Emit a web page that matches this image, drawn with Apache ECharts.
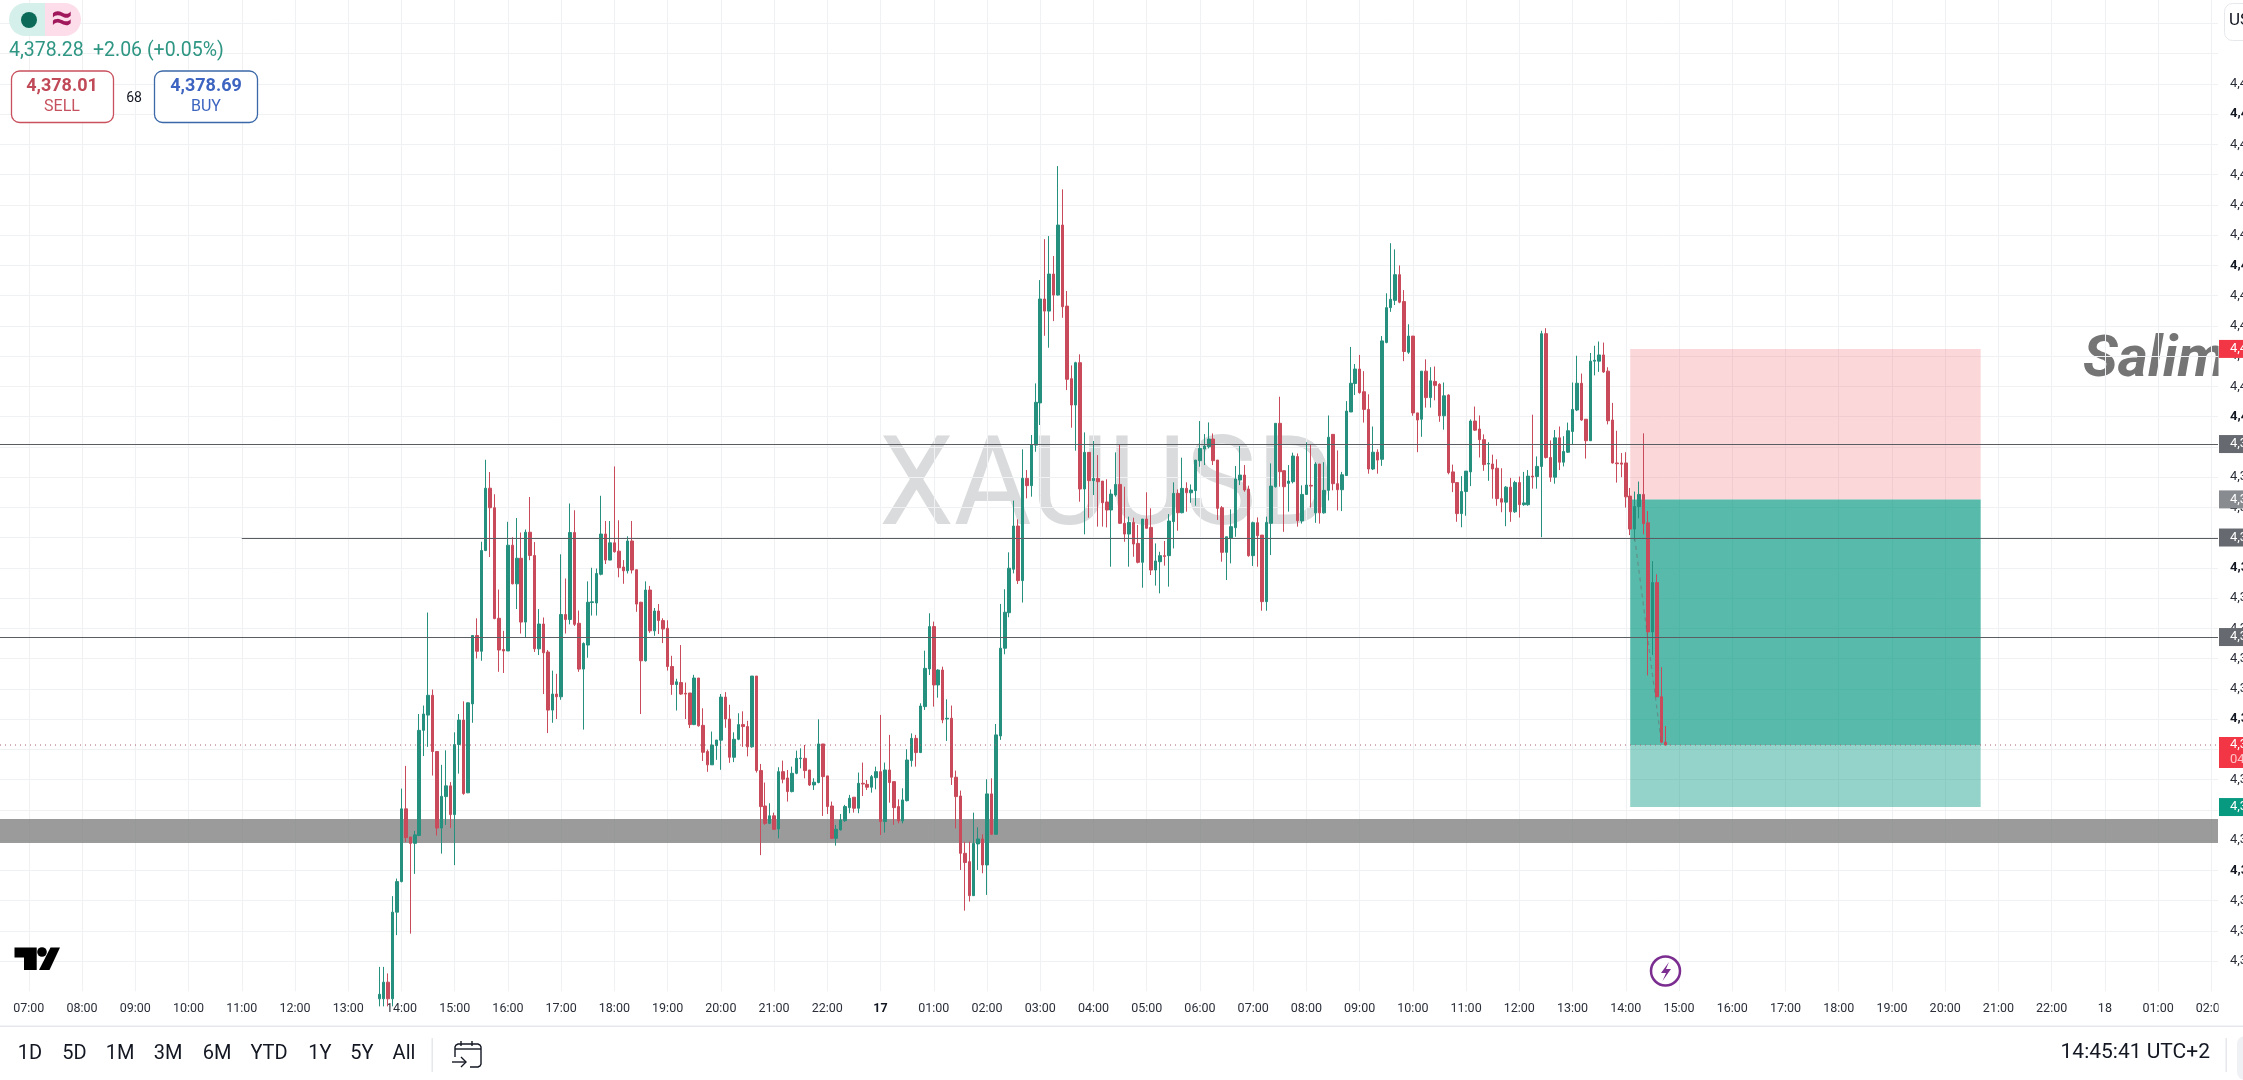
<!DOCTYPE html>
<html><head><meta charset="utf-8">
<style>html,body{margin:0;padding:0;background:#fff;overflow:hidden}#c{width:2243px;height:1080px}</style>
<script src="https://cdn.jsdelivr.net/npm/echarts@6/dist/echarts.min.js"></script>
</head><body><div id="c"></div>
<script>
// hour labels every 12 five-minute slots, first one at slot 6
const hourLabels=['07:00','08:00','09:00','10:00','11:00','12:00','13:00','14:00','15:00','16:00','17:00','18:00','19:00','20:00','21:00','22:00','17','01:00','02:00','03:00','04:00','05:00','06:00','07:00','08:00','09:00','10:00','11:00','12:00','13:00','14:00','15:00','16:00','17:00','18:00','19:00','20:00','21:00','22:00','18','01:00','02:00'];
const slotCount=500, firstHourSlot=6, firstCandleSlot=85;
const priceTicksTop=4422;
// [open, close, low, high]
const candles=[
[4361.5,4361.8,4361,4363.61],[4361.5,4362.6,4361,4363.61],[4362.6,4361.5,4361,4363.18],[4361.5,4367.23,4361,4368.29],[4367.23,4369.25,4365.71,4369.45],
[4369.25,4374.06,4369.2,4375.4],[4374.06,4372.16,4371.86,4376.9],[4372.2,4371.78,4365.81,4372.2],[4371.78,4372.34,4369.76,4372.6],[4372.3,4379.25,4372.25,4380.33],
[4379.25,4380.33,4377.55,4380.89],[4380.26,4381.57,4378.16,4387.04],[4381.57,4377.85,4376.26,4381.95],[4377.85,4372.79,4372.29,4377.85],[4372.79,4374.89,4371.1,4376.97],
[4374.87,4375.58,4373,4377.93],[4375.58,4373.68,4372.79,4375.83],[4373.68,4378.31,4370.34,4379.12],[4378.31,4379.93,4376.39,4380.33],[4379.93,4375.07,4374.99,4381.17],
[4375.12,4381.07,4375.1,4381.1],[4381,4385.52,4379.75,4385.55],[4385.52,4384.48,4384,4386.66],[4384.48,4391.14,4383.85,4391.72],[4391.14,4395.26,4391.1,4397.14],
[4395.26,4393.97,4390.71,4396.33],[4393.97,4386.64,4386.6,4394.86],[4386.66,4384.56,4383.12,4388.56],[4384.6,4384.5,4383.04,4385.83],[4384.5,4391.49,4384.5,4393.04],
[4391.49,4388.94,4388.9,4392.02],[4388.94,4390.63,4387.27,4393.29],[4390.63,4386.41,4385.65,4392.33],[4386.41,4392.35,4385.4,4392.53],[4392.35,4390.81,4390.5,4394.68],
[4390.81,4384.64,4384.43,4391.7],[4384.64,4386.28,4384.23,4387.27],[4386.28,4384.38,4381.65,4386.71],[4384.43,4380.59,4379.07,4384.56],[4380.59,4381.65,4379.75,4383.2],
[4381.65,4381.47,4380,4382.99],[4381.47,4386.91,4381.27,4390.89],[4386.91,4386.58,4385.65,4389.29],[4386.58,4392.33,4386.26,4394.25],[4392.33,4386.26,4386.15,4393.8],
[4386.33,4383.3,4383.12,4387.17],[4383.3,4384.99,4379.3,4385.07],[4384.89,4387.72,4384.05,4389.1],[4387.7,4387.75,4386.84,4390],[4387.67,4389.62,4386.84,4389.95],
[4389.57,4392.23,4389.5,4394.76],[4392.23,4390.51,4390.25,4393.09],[4390.51,4391.65,4390.5,4393.09],[4391.65,4391.06,4391,4396.7],[4391.1,4390,4389.37,4393.14],
[4390.05,4389.8,4388.94,4390.51],[4389.8,4391.77,4389.62,4392.08],[4391.77,4389.85,4389.62,4393.09],[4389.87,4387.6,4387.09,4389.87],[4387.72,4383.85,4380.33,4387.75],
[4383.85,4388.53,4383.8,4389.1],[4388.53,4385.83,4385.7,4388.8],[4385.83,4387.14,4385.5,4387.34],[4387.14,4386.51,4385.62,4387.6],[4386.51,4385.95,4385.02,4386.66],
[4386,4383.47,4383.2,4386.53],[4383.47,4382.28,4381.6,4384.18],[4382.28,4382.46,4380.56,4382.66],[4382.41,4381.65,4381.6,4384.89],[4381.7,4381.65,4380,4382.41],
[4381.72,4379.63,4379.4,4381.72],[4379.63,4382.71,4379.6,4382.92],[4382.71,4379.55,4379.5,4382.71],[4379.58,4377.8,4377.22,4380.71],[4377.85,4376.97,4376.51,4377.98],
[4376.97,4378.28,4377,4379.17],[4378.24,4378.61,4377.3,4378.61],[4378.6,4381.45,4376.64,4381.65],[4381.45,4380,4379.42,4381.78],[4380,4377.47,4377.1,4380.94],
[4377.47,4378.66,4377.15,4379.12],[4378.66,4379.63,4378.6,4380.38],[4379.63,4379.5,4378.16,4380.51],[4379.5,4378.16,4377.53,4379.88],[4378.16,4382.84,4378.1,4382.84],
[4382.84,4376.59,4376.46,4382.84],[4376.59,4374.21,4371,4377.03],[4374.25,4373.1,4373,4375.8],[4373.1,4373.6,4373.05,4374.43],[4373.6,4372.71,4372.67,4373.81],
[4372.73,4376.52,4372.11,4376.81],[4376.52,4376.02,4375.75,4377.25],[4376.1,4375.2,4374.54,4376.63],[4375.2,4376.41,4375.15,4376.85],[4376.41,4377.4,4376.35,4377.91],
[4377.38,4377.42,4376.74,4378.06],[4377.4,4376.59,4376.08,4378.28],[4376.63,4375.64,4375.57,4376.63],[4375.64,4375.82,4375.31,4376.08],[4375.8,4378.35,4375.75,4379.98],
[4378.35,4376.19,4373.59,4378.35],[4376.24,4374.21,4373.72,4376.24],[4374.25,4372.11,4372.07,4374.54],[4372.11,4372.71,4371.63,4373],[4372.67,4373.33,4372.62,4373.72],
[4373.28,4374.21,4373.2,4374.32],[4374.14,4374.76,4373.77,4374.98],[4374.83,4374.1,4373.81,4374.83],[4374.1,4375.75,4373.77,4376.46],[4375.75,4375.7,4374.91,4377.12],
[4375.68,4375.49,4375.31,4375.97],[4375.49,4376.19,4375.13,4376.3],[4376.12,4376.52,4375.35,4376.85],[4376.52,4373.22,4372.33,4380.27],[4373.22,4376.63,4372.49,4377.12],
[4376.63,4375.8,4374.47,4378.95],[4375.86,4374.14,4373,4375.86],[4374.21,4373.26,4373.1,4374.69],[4373.26,4374.65,4373.1,4375.42],[4374.6,4377.29,4374.55,4378],
[4377.25,4378.72,4376.85,4379.05],[4378.72,4377.78,4376.85,4378.95],[4377.78,4380.86,4377.75,4381.04],[4380.82,4383.35,4380.6,4384.52],[4383.31,4386.11,4382.91,4386.99],
[4386.11,4382.25,4380.82,4386.44],[4382.25,4383.24,4381.41,4383.29],[4383.24,4379.94,4379.72,4383.46],[4380,4380.05,4378.55,4381.3],[4380.05,4376.15,4375.64,4380.89],
[4376.15,4374.87,4372.77,4376.59],[4374.91,4371.12,4370.02,4375.27],[4371.12,4370.51,4367.33,4371.89],[4370.57,4368.32,4367.93,4371.89],[4368.32,4371.78,4368.3,4373.81],
[4371.74,4372.07,4370.02,4372.84],[4372.07,4370.35,4369.8,4372.38],[4370.35,4375.05,4368.37,4376.02],[4375.05,4372.38,4372.33,4376.08],[4372.38,4378.95,4372.35,4379.67],
[4378.88,4384.68,4378.62,4387.61],[4384.68,4387.06,4384.28,4388.58],[4387.03,4389.97,4386.73,4391.02],[4389.9,4392.76,4389.63,4394.44],[4392.76,4389.15,4388.93,4393.2],
[4389.15,4395.92,4387.7,4397.83],[4395.91,4395.43,4394.59,4396.46],[4395.43,4398.11,4394.7,4398.78],[4398.11,4400.94,4397.67,4402.19],[4400.9,4407.77,4399.44,4409.02],
[4407.77,4406.97,4405.34,4411.73],[4406.97,4409.42,4404.55,4411.93],[4409.42,4408.03,4406.31,4410.61],[4408.03,4412.66,4408,4416.56],[4412.66,4407.26,4406.53,4415.02],
[4407.3,4402.46,4401.75,4408.3],[4402.5,4400.76,4399.26,4403.38],[4400.76,4403.56,4397.74,4403.62],[4403.56,4395.21,4394.37,4404.11],[4395.21,4397.63,4392.21,4398.95],
[4397.63,4395.76,4393.31,4397.63],[4395.76,4395.91,4394.81,4398.38],[4395.91,4395.69,4392.72,4397.45],[4395.73,4394.3,4392.72,4395.73],[4394.35,4393.82,4392.67,4395.85],
[4393.82,4394.87,4390.07,4395.18],[4394.81,4395.51,4394.7,4397.63],[4395.51,4392.94,4392.9,4398.18],[4392.94,4392.23,4391.72,4395.36],[4392.23,4393,4390.07,4393.38],
[4393,4391.57,4390.73,4393.31],[4391.61,4390.36,4390.29,4392.83],[4390.36,4393.22,4388.68,4393.22],[4393.22,4392.61,4392.6,4394.99],[4392.67,4389.85,4389.52,4393.93],
[4389.85,4390.45,4388.82,4391.61],[4390.4,4390.8,4388.31,4391.06],[4390.8,4390.75,4390.14,4391.77],[4390.8,4393.09,4388.75,4393.55],[4393.05,4394.92,4391.28,4395.65],
[4394.92,4393.64,4392.45,4395.18],[4393.64,4395.25,4393.6,4397.28],[4395.25,4394.96,4393.71,4395.65],[4394.96,4395.14,4394.3,4395.51],[4395.1,4397.12,4394.1,4397.12],
[4397.08,4397.89,4396.68,4399.7],[4397.85,4398.05,4396.79,4398.84],[4398,4398.51,4397.89,4399.61],[4398.51,4397.08,4396.79,4398.88],[4397.12,4393.93,4393.16,4397.12],
[4393.97,4391.02,4390.4,4394.08],[4391.02,4392.05,4389.19,4392.05],[4391.94,4392.72,4390.29,4393.86],[4392.65,4395.87,4392.05,4396.73],[4395.8,4396.13,4395.47,4398.05],
[4396.13,4395.14,4395.03,4396.79],[4395.2,4390.8,4390.73,4395.43],[4390.8,4392.98,4390.12,4393.05],[4392.98,4392.12,4390.07,4393.33],[4392.16,4387.76,4387.16,4392.16],
[4387.76,4393,4387.16,4393.38],[4392.94,4395.4,4390.84,4396.9],[4395.36,4399.55,4395.3,4399.55],[4399.55,4396.35,4395.36,4401.31],[4396.42,4395.36,4392.38,4396.42],
[4395.58,4395.73,4393.71,4396.79],[4395.69,4397.39,4395.58,4397.61],[4397.35,4393.11,4392.72,4397.56],[4393.1,4394.85,4392.92,4395.45],[4394.85,4395.47,4394.81,4398.3],
[4395.45,4395.4,4393.98,4398.16],[4393.63,4396.86,4392.97,4396.98],[4396.86,4393.63,4392.92,4396.86],[4393.63,4395.12,4393.58,4396.98],[4395.12,4398.63,4394.45,4400.07],
[4398.82,4395.56,4395.12,4398.82],[4395.56,4395.16,4393.79,4397.76],[4395.16,4396.15,4393.75,4396.34],[4396.1,4400.36,4396.1,4401.02],[4400.3,4402.2,4400.3,4404.6],
[4402.18,4403.14,4401.42,4403.47],[4403.14,4401.58,4401.51,4404.07],[4401.64,4400.47,4399.6,4403],[4400.47,4396.53,4396.22,4401.47],[4396.53,4397.64,4396.46,4399.34],
[4397.64,4397.12,4396.22,4397.83],[4397.17,4405,4396.74,4405.32],[4404.9,4407.2,4404.84,4408.15],[4407.2,4407.75,4406.92,4411.46],[4407.68,4409.38,4407.37,4411.05],
[4409.38,4407.56,4407.49,4409.99],[4407.6,4404.3,4403.66,4408.36],[4404.25,4405.32,4404.14,4406.1],[4405.32,4400.24,4400.05,4405.32],[4400.24,4399.77,4397.64,4400.24],
[4399.82,4403,4398.66,4403],[4403,4401.25,4400.59,4403.78],[4401.25,4402.36,4400.59,4403.26],[4402.32,4402.06,4401.07,4403.31],[4402.13,4400.05,4399.65,4402.2],
[4400.05,4401.37,4399.13,4402.25],[4401.42,4396.29,4396.18,4401.47],[4396.34,4395.63,4395,4396.82],[4395.63,4393.58,4393.04,4395.63],[4393.58,4395.04,4392.68,4396.06],
[4395.04,4396.39,4393.44,4396.39],[4396.34,4399.7,4395.4,4399.81],[4399.7,4399.1,4399.06,4400.66],[4399.17,4398.47,4397.29,4400.07],[4398.47,4396.82,4396.41,4398.82],
[4396.86,4396.9,4395.75,4398.3],[4396.86,4396.53,4394.57,4397.48],[4396.58,4394.57,4394.1,4397.17],[4394.57,4394.34,4393.67,4396.58],[4394.34,4395.33,4392.75,4395.4],
[4395.33,4393.7,4393.04,4395.94],[4393.7,4395.63,4393.63,4395.75],[4395.63,4394.17,4393.32,4396.03],[4394.17,4394.29,4394.1,4396.34],[4394.17,4396.06,4394.1,4396.46],
[4396.06,4396,4395.23,4400.12],[4396.03,4396.7,4395.23,4397.36],[4396.7,4405.48,4392.02,4405.67],[4405.48,4397.29,4397.22,4405.84],[4397.29,4395.99,4395.68,4398.42],
[4395.99,4398.59,4395.56,4399.11],[4398.59,4396.98,4396.46,4399.34],[4396.98,4397.69,4396.7,4398.7],[4397.64,4399.06,4397.59,4399.6],[4399.01,4400.47,4398.16,4402.25],
[4400.43,4402.2,4400.36,4404.02],[4402.2,4399.77,4399.72,4402.84],[4399.82,4398.4,4397.22,4399.82],[4398.4,4403.66,4398.4,4404.2],[4403.66,4403.72,4402.72,4404.68],
[4403.66,4404.07,4402.95,4404.96],[4404.07,4402.95,4402.88,4404.89],[4403,4399.72,4399.48,4403.26],[4399.77,4396.93,4396.89,4400.9],[4396.93,4396.88,4395.63,4399.06],
[4396.93,4396.85,4395.99,4397.59],[4396.93,4394.69,4393.98,4397.64],[4394.74,4392.56,4392.16,4395.28],[4392.56,4394.05,4391.79,4395.04],[4394.05,4394.85,4393.27,4395.7],
[4394.85,4392.92,4392.21,4398.89],[4392.97,4385.76,4382.88,4393.75],[4385.76,4389.02,4384.23,4390.44],[4389.02,4381.47,4381.45,4389.57],[4381.47,4378.47,4378.4,4383.43],
[4378.47,4378.28,4378.24,4379.53]
];
const priceLevels=[{slot:0,price:4398.18},{slot:54,price:4392.0},{slot:0,price:4385.42}];
const lastPrice=4378.28;
const supportBand=[4373.39,4371.8];
const tradeBox={fromSlot:367,toSlot:446,stop:4404.47,entry:4394.52,last:4378.28,target:4374.18};
const tradePath=[[368,4391.97],[374,4378.47]];
const priceTags=[
 {price:4404.47,text:'4,4',bg:'#f23645'},
 {price:4398.18,text:'4,3',bg:'#666a70'},
 {price:4394.52,text:'4,3',bg:'#888b90'},
 {price:4392.0,text:'4,3',bg:'#666a70'},
 {price:4385.42,text:'4,3',bg:'#666a70'},
 {price:4378.28,text:'4,3',sub:'04',bg:'#f23645'},
 {price:4374.18,text:'4,3',bg:'#089981'}
];
const rangeButtons=[['1D',30],['5D',74.5],['1M',120],['3M',168],['6M',217],['YTD',269],['1Y',320],['5Y',362],['All',404]];

const categories=new Array(slotCount).fill('');
hourLabels.forEach((t,i)=>{categories[firstHourSlot+12*i]=t;});
const candleData=candles.map((c,i)=>[i+firstCandleSlot,c[0],c[1],c[2],c[3]]);
const isHour=(i)=>categories[i]!=='';
const chart=echarts.init(document.getElementById('c'),null,{renderer:'canvas',width:2243,height:1080});
const F='Roboto';
const txt=(text,x,y,size,fill,o)=>Object.assign({type:'text',x,y,silent:true,scaleX:(o&&o.scaleX)||1,style:{text,fill,font:(o&&o.weight||'normal')+' '+size+'px '+F,textAlign:(o&&o.align)||'left',textVerticalAlign:'middle'}},o&&o.z!==undefined?{z:o.z}:{z:20});
const rect=(x,y,w,h,fill,o)=>Object.assign({type:'rect',silent:true,shape:{x,y,width:w,height:h,r:(o&&o.r)||0},style:{fill,stroke:o&&o.stroke,lineWidth:o&&o.lw}},{z:o&&o.z!==undefined?o.z:19});
const poly=(pts,fill)=>({type:'polygon',silent:true,z:20,shape:{points:pts},style:{fill}});
const pl=(pts)=>({type:'polyline',silent:true,z:20,shape:{points:pts},style:{fill:'none',stroke:'#131722',lineWidth:1.4}});
const graphics=[
 // watermark and author text
 txt('XAUUSD',879,493,125,'#dadbdc',{z:-5,scaleX:0.955}),
 txt('Salim',2083,361,58,'#757575',{z:-5,weight:'italic bold'}),
 rect(2218.5,325,25,56,'#fff',{z:-4}),
 rect(2218.5,994,25,30,'#fff',{z:30}),
 // header pill
 rect(9,3,36,33,'#d5efea',{r:[16.5,0,0,16.5]}),
 rect(45,3,36,33,'#fcdde9',{r:[0,16.5,16.5,0]}),
 {type:'circle',silent:true,z:21,shape:{cx:29,cy:20,r:8},style:{fill:'#0b6b58'}},
 txt('≈',62,20,38,'#a0175c',{align:'center',weight:'bold'}),
 txt('4,378.28',9,51,19.5,'#2e9683'),
 txt('+2.06 (+0.05%)',93,51,19.5,'#2e9683'),
 rect(11.5,71,102,51.5,'#fff',{r:8,stroke:'#c9505d',lw:1.3}),
 rect(154.5,71,103,51.5,'#fff',{r:8,stroke:'#3a68a8',lw:1.3}),
 txt('4,378.01',62,86,18,'#c14a58',{align:'center',weight:'bold'}),
 txt('SELL',62,107,16,'#c6525f',{align:'center'}),
 txt('4,378.69',206,86,18,'#3d64c0',{align:'center',weight:'bold'}),
 txt('BUY',206,107,16,'#3d64c0',{align:'center'}),
 txt('68',134,98,14,'#131722',{align:'center'}),
 // top right currency button
 rect(2224.5,3.5,30,37,'#fff',{r:8,stroke:'#e6e8ec',lw:1}),
 txt('US',2229,21,17,'#131722'),
 // logo
 poly([[14.5,947.5],[36.7,947.5],[36.7,970],[24,970],[24,957.5],[14.5,957.5]],'#000'),
 {type:'circle',silent:true,z:20,shape:{cx:42,cy:952,r:4.8},style:{fill:'#000'}},
 poly([[50.5,947.5],[60,947.5],[49.5,970],[39,970]],'#000'),
 // session icon
 {type:'circle',silent:true,z:20,shape:{cx:1665.5,cy:971,r:14.5},style:{fill:'#fff',stroke:'#7b2d90',lineWidth:2.5}},
 Object.assign(poly([[1669,962],[1661,973],[1666,973],[1662.5,981],[1671,969],[1666,969]],'#7b2d90'),{z:21}),
 // bottom bar
 rect(0,1025.5,2243,1.5,'#e6e8ec'),
 rect(431.5,1038,1.5,34,'#e6e8ec'),
 rect(2225.5,1038,1.5,34,'#e6e8ec'),
 rect(2237,1036,30,44,'#f0f1f4',{r:8}),
 pl([[455,1057],[455,1047],[456,1045],[458,1044],[478,1044],[480,1045],[481,1047],[481,1064],[480,1066],[478,1067],[470,1067]]),
 pl([[455,1049],[481,1049]]),pl([[461,1041],[461,1046]]),pl([[472,1041],[472,1046]]),
 pl([[452,1062],[466,1062]]),pl([[461,1057],[466,1062],[461,1067]]),
 txt('14:45:41 UTC+2',2210,1053,21,'#131722',{align:'right'})
].concat(rangeButtons.map(b=>txt(b[0],b[1],1054,20,'#131722',{align:'center'})));

const underlay=(params,api)=>{
 const cs=params.coordSys,y=p=>api.coord([0,p])[1],x=s=>api.coord([s,lastPrice])[0];
 const a=y(supportBand[0]),b=y(supportBand[1]);
 const zone=(p1,p2,fill)=>({type:'rect',shape:{x:x(tradeBox.fromSlot),y:y(p1),width:x(tradeBox.toSlot)-x(tradeBox.fromSlot),height:y(p2)-y(p1)},style:{fill}});
 return {type:'group',children:[
  {type:'rect',shape:{x:cs.x,y:a,width:cs.width,height:b-a},style:{fill:'rgba(122,122,122,.75)'}},
  zone(tradeBox.stop,tradeBox.entry,'rgba(242,54,69,.2)'),
  zone(tradeBox.entry,tradeBox.last,'rgba(8,153,129,.68)'),
  zone(tradeBox.last,tradeBox.target,'rgba(8,153,129,.43)')
 ]};
};
const overlay=(params,api)=>{
 const cs=params.coordSys,right=cs.x+cs.width,y=p=>api.coord([0,p])[1],x=s=>api.coord([s,lastPrice])[0];
 const children=[
  {type:'line',shape:{x1:x(tradePath[0][0]),y1:y(tradePath[0][1]),x2:x(tradePath[1][0]),y2:y(tradePath[1][1])},style:{stroke:'rgba(110,110,110,.55)',lineWidth:1.2,lineDash:[4,4]}},
  {type:'line',shape:{x1:cs.x,y1:y(lastPrice),x2:right,y2:y(lastPrice)},style:{stroke:'#a8606a',lineWidth:1,lineDash:[1,4]}}
 ];
 priceLevels.forEach(l=>children.push({type:'line',shape:{x1:l.slot?x(l.slot):cs.x,y1:Math.round(y(l.price))+.5,x2:right,y2:Math.round(y(l.price))+.5},style:{stroke:'#5a5d62',lineWidth:1.1}}));
 return {type:'group',children};
};
const tags=(params,api)=>{
 const cs=params.coordSys,left=cs.x+cs.width+1;
 const children=[];
 priceTags.forEach(t=>{
  const yy=api.coord([0,t.price])[1];
  const top=yy-9,h=t.sub?31:18;
  children.push({type:'rect',shape:{x:left,y:t.sub?yy-8:top,width:30,height:h},style:{fill:t.bg}});
  children.push({type:'text',style:{x:2230,y:yy,text:t.text,fill:'#fff',font:'13px '+F,textAlign:'left',textVerticalAlign:'middle'}});
  if(t.sub)children.push({type:'text',style:{x:2230,y:yy+15,text:t.sub,fill:'#ffc2c7',font:'13px '+F,textAlign:'left',textVerticalAlign:'middle'}});
 });
 return {type:'group',children};
};
chart.setOption({
 animation:false,backgroundColor:'#fff',
 textStyle:{fontFamily:F},
 graphic:{elements:graphics},
 grid:{left:0,top:0,width:2218,height:991.25,containLabel:false,outerBoundsMode:'none'},
 xAxis:{type:'category',data:categories,boundaryGap:true,
  axisLine:{show:false},axisTick:{show:false},
  axisLabel:{interval:(i)=>isHour(i),margin:11,fontSize:12.5,color:'#2a2e39',fontFamily:F,
   formatter:(v)=>v==='17'?'{b|17}':v,rich:{b:{fontWeight:'bold',fontSize:12.5,color:'#131722'}},hideOverlap:false},
  splitLine:{show:true,alignWithLabel:true,interval:(i)=>isHour(i),lineStyle:{color:'#f0f1f3',width:1}}},
 yAxis:{type:'value',position:'right',min:4362,max:4427.54,interval:2,scale:true,
  axisLine:{show:false},axisTick:{show:false},
  axisLabel:{inside:false,margin:12,showMinLabel:false,showMaxLabel:false,align:'left',
   formatter:(v)=>{if(v>priceTicksTop)return '';const s=v>=4400?'4,4':'4,3';return (v%10===0?'{b|'+s+'}':'{n|'+s+'}');},
   rich:{n:{fontSize:13,color:'#2a2e39',fontFamily:F},b:{fontSize:13,fontWeight:'bold',color:'#131722',fontFamily:F}}},
  splitLine:{show:true,showMinLine:false,showMaxLine:false,lineStyle:{color:'#f0f1f3',width:1}}},
 series:[
  {type:'custom',name:'zones',z:1,renderItem:underlay,data:[[0,supportBand[0]]],silent:true,clip:false},
  {type:'candlestick',name:'XAUUSD',z:2,barWidth:3,clip:true,data:candleData,encode:{x:0,y:[1,2,3,4]},
   itemStyle:{color:'#26907f',color0:'#c94a5a',borderColor:'#26907f',borderColor0:'#c94a5a',borderWidth:1}},
  {type:'custom',name:'overlay',z:3,renderItem:overlay,data:[[0,lastPrice]],silent:true,clip:false},
  {type:'custom',name:'tags',z:10,renderItem:tags,data:[[0,lastPrice]],silent:true,clip:false}
 ]
});
</script></body></html>
